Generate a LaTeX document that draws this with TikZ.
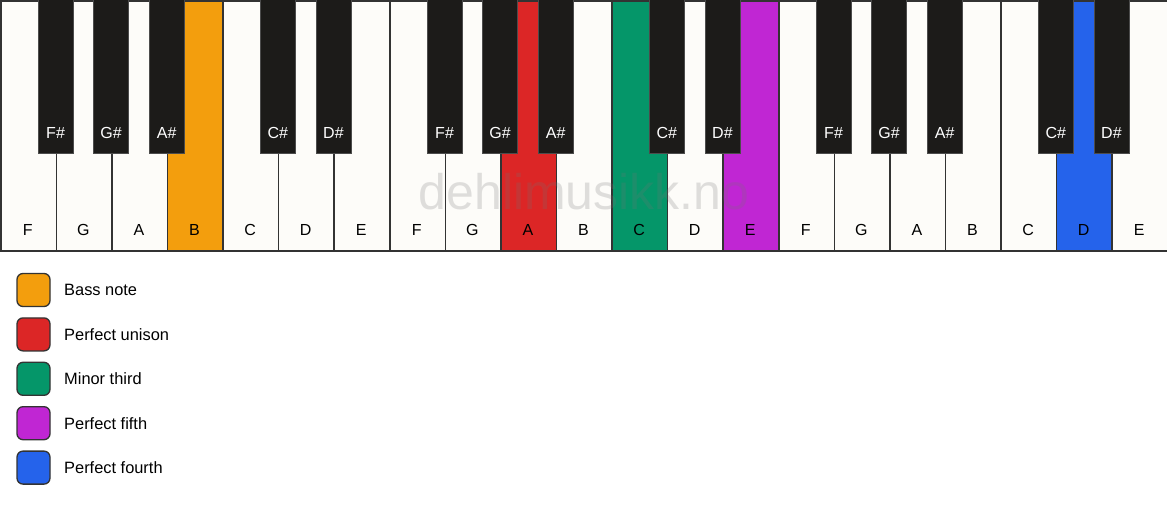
\documentclass[tikz,border=0pt]{standalone}
\usepackage{fontspec}
\setmainfont{Liberation Sans}
\definecolor{keywhite}{HTML}{FDFCF9}
\definecolor{keyblack}{HTML}{1C1B19}
\definecolor{keyline}{HTML}{333333}
\definecolor{cbass}{HTML}{F39E0D}
\definecolor{cunison}{HTML}{DC2626}
\definecolor{cthird}{HTML}{059669}
\definecolor{cfifth}{HTML}{C026D3}
\definecolor{cfourth}{HTML}{2563EB}
\tikzset{
  whitekey/.style={draw=keyline, line width=1.6pt, minimum width=55.571pt, minimum height=250pt, inner sep=0pt, anchor=north west, fill=keywhite},
  blackkey/.style={draw=black!70, line width=0.8pt, fill=keyblack, minimum width=35pt, minimum height=153pt, inner sep=0pt, anchor=north},
  wlabel/.style={font=\fontsize{16}{18}\selectfont, text=black},
  blabel/.style={font=\fontsize{16}{18}\selectfont, text=white},
  legbox/.style={draw=keyline, line width=1.3pt, rounded corners=6pt, minimum width=33pt, minimum height=33pt, inner sep=0pt},
  legtext/.style={font=\fontsize{16.4}{18}\selectfont, anchor=west, inner sep=0pt}
}
\begin{document}
\begin{tikzpicture}[x=1pt,y=-1pt]
\useasboundingbox (0,0) rectangle (1167,506);
\fill[white] (0,0) rectangle (1167,506);
% white keys
\foreach \i/\n/\c in {0/F/keywhite,1/G/keywhite,2/A/keywhite,3/B/cbass,4/C/keywhite,5/D/keywhite,6/E/keywhite,
  7/F/keywhite,8/G/keywhite,9/A/cunison,10/B/keywhite,11/C/cthird,12/D/keywhite,13/E/cfifth,
  14/F/keywhite,15/G/keywhite,16/A/keywhite,17/B/keywhite,18/C/keywhite,19/D/cfourth,20/E/keywhite}{
  \node[whitekey, fill=\c] (w\i) at ({\i*55.571},0) {};
  \node[wlabel] (wl\i) at ({(\i+0.5)*55.571},230) {\n};
}
% watermark
\node[font=\fontsize{50}{52}\selectfont, text=black!55, opacity=0.22, anchor=base] (wm) at (584,209) {dehlimusikk.no};
% black keys
\foreach \i/\n in {1/F\#,2/G\#,3/A\#,5/C\#,6/D\#,8/F\#,9/G\#,10/A\#,12/C\#,13/D\#,15/F\#,16/G\#,17/A\#,19/C\#,20/D\#}{
  \node[blackkey] (b\i) at ({\i*55.571},-0.5) {};
  \node[blabel] (bl\i) at ({\i*55.571},133) {\n};
}
% legend
\foreach \k/\c/\t [count=\j from 0] in {0/cbass/Bass note,1/cunison/Perfect unison,2/cthird/Minor third,3/cfifth/Perfect fifth,4/cfourth/Perfect fourth}{
  \node[legbox, fill=\c] (lg\k) at (33.5,{290+\j*44.4}) {};
  \node[legtext] (lt\k) at (64,{290+\j*44.4}) {\t};
}
\end{tikzpicture}
\end{document}
